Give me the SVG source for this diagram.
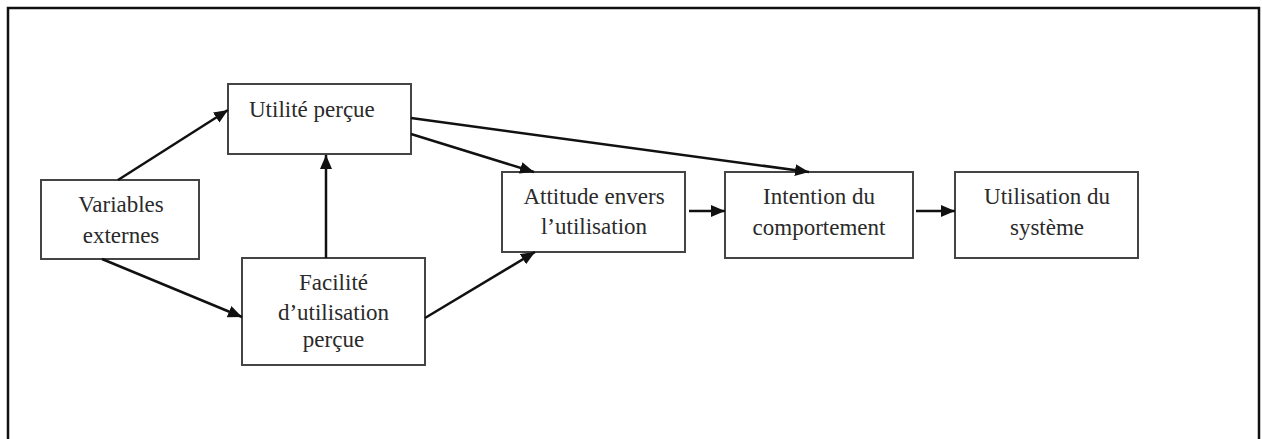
<svg xmlns="http://www.w3.org/2000/svg" width="1262" height="439" viewBox="0 0 1262 439">
<defs>
<marker id="ah" markerUnits="userSpaceOnUse" markerWidth="16" markerHeight="14" refX="14" refY="6" orient="auto">
<path d="M0,0 L14,6 L0,12 Z" fill="#111"/>
</marker>
<style>
.box{fill:#fff;stroke:#444;stroke-width:2}
.lbl{font-family:"Liberation Serif","Times New Roman",serif;font-size:23px;fill:#2a2a2a;text-anchor:middle}
.conn line{stroke:#111;stroke-width:2.5;fill:none;marker-end:url(#ah)}
</style>
</defs>
<rect x="0" y="0" width="1262" height="439" fill="#fff"/>
<path d="M8,445 V8 H1259 V445" fill="none" stroke="#111" stroke-width="2.5"/>

<g id="n-utilite">
<rect class="box" x="228" y="84" width="183" height="70"/>
<text class="lbl" x="249" y="117" style="text-anchor:start">Utilité perçue</text>
</g>
<g id="n-variables">
<rect class="box" x="41" y="180" width="158" height="79"/>
<text class="lbl" x="121" y="212">Variables</text>
<text class="lbl" x="121" y="243">externes</text>
</g>
<g id="n-facilite">
<rect class="box" x="242" y="258" width="183" height="107"/>
<text class="lbl" x="333.5" y="290">Facilité</text>
<text class="lbl" x="333.5" y="320">d’utilisation</text>
<text class="lbl" x="333.5" y="347">perçue</text>
</g>
<g id="n-attitude">
<rect class="box" x="502" y="172" width="183" height="80"/>
<text class="lbl" x="594" y="204">Attitude envers</text>
<text class="lbl" x="594" y="234">l’utilisation</text>
</g>
<g id="n-intention">
<rect class="box" x="725" y="172" width="188" height="86"/>
<text class="lbl" x="819" y="204">Intention du</text>
<text class="lbl" x="819" y="235">comportement</text>
</g>
<g id="n-utilisation">
<rect class="box" x="955" y="172" width="183" height="86"/>
<text class="lbl" x="1047" y="204">Utilisation du</text>
<text class="lbl" x="1047" y="235">système</text>
</g>

<g id="connectors" class="conn">
<line x1="118" y1="180" x2="228" y2="110"/>
<line x1="102" y1="259" x2="242" y2="317"/>
<line x1="326" y1="258" x2="326" y2="155"/>
<line x1="411" y1="134" x2="534" y2="172"/>
<line x1="411" y1="118" x2="809" y2="172"/>
<line x1="425" y1="318" x2="535" y2="252"/>
<line x1="689" y1="211" x2="725" y2="211"/>
<line x1="916" y1="211" x2="955" y2="211"/>
</g>
</svg>
